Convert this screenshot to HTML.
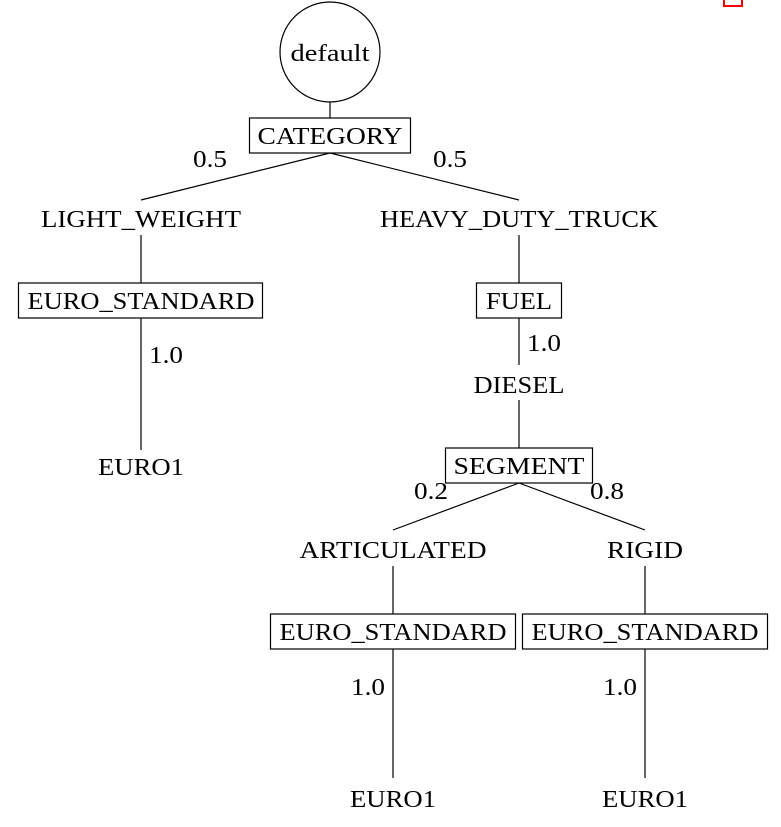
<!DOCTYPE html>
<html><head><meta charset="utf-8"><style>
html,body{margin:0;padding:0;background:#fff;}
svg text{font-family:"Liberation Serif",serif;font-size:24px;fill:#000;}
</style></head><body>
<svg width="781" height="822" viewBox="0 0 781 822" xmlns="http://www.w3.org/2000/svg">
<rect x="724" y="-3" width="18" height="9" fill="none" stroke="#f00" stroke-width="2"/>
<g stroke="#000" stroke-width="1.2" fill="none">
<circle cx="330" cy="52" r="50"/>
<line x1="330" y1="102" x2="330" y2="118"/>
<rect x="249.5" y="118" width="161" height="35"/>
<line x1="330" y1="153" x2="141" y2="200"/>
<line x1="330" y1="153" x2="519" y2="200"/>
<line x1="141" y1="235" x2="141" y2="283"/>
<rect x="18.5" y="283" width="244" height="35"/>
<line x1="141" y1="318" x2="141" y2="450"/>
<line x1="519" y1="235" x2="519" y2="283"/>
<rect x="476.5" y="283" width="85" height="35"/>
<line x1="519" y1="318" x2="519" y2="365"/>
<line x1="519" y1="400" x2="519" y2="448"/>
<rect x="445.5" y="448" width="147" height="35"/>
<line x1="519" y1="483" x2="393" y2="530"/>
<line x1="519" y1="483" x2="645" y2="530"/>
<line x1="393" y1="566" x2="393" y2="614"/>
<line x1="645" y1="566" x2="645" y2="614"/>
<rect x="270.5" y="614" width="245" height="35"/>
<rect x="522.5" y="614" width="245" height="35"/>
<line x1="393" y1="649" x2="393" y2="778"/>
<line x1="645" y1="649" x2="645" y2="778"/>
</g>
<g text-anchor="middle" lengthAdjust="spacingAndGlyphs">
<text x="330" y="61" textLength="79" lengthAdjust="spacingAndGlyphs">default</text>
<text x="330" y="144" textLength="145" lengthAdjust="spacingAndGlyphs">CATEGORY</text>
<text x="210" y="167" textLength="34" lengthAdjust="spacingAndGlyphs">0.5</text>
<text x="450" y="167" textLength="34" lengthAdjust="spacingAndGlyphs">0.5</text>
<text x="141" y="227" textLength="200" lengthAdjust="spacingAndGlyphs">LIGHT_WEIGHT</text>
<text x="519" y="227" textLength="278" lengthAdjust="spacingAndGlyphs">HEAVY_DUTY_TRUCK</text>
<text x="141" y="309" textLength="227" lengthAdjust="spacingAndGlyphs">EURO_STANDARD</text>
<text x="519" y="309" textLength="66" lengthAdjust="spacingAndGlyphs">FUEL</text>
<text x="166" y="363" textLength="34" lengthAdjust="spacingAndGlyphs">1.0</text>
<text x="544" y="351" textLength="34" lengthAdjust="spacingAndGlyphs">1.0</text>
<text x="519" y="393" textLength="91" lengthAdjust="spacingAndGlyphs">DIESEL</text>
<text x="141" y="475" textLength="86" lengthAdjust="spacingAndGlyphs">EURO1</text>
<text x="519" y="474" textLength="131" lengthAdjust="spacingAndGlyphs">SEGMENT</text>
<text x="431" y="499" textLength="34" lengthAdjust="spacingAndGlyphs">0.2</text>
<text x="607" y="499" textLength="34" lengthAdjust="spacingAndGlyphs">0.8</text>
<text x="393" y="558" textLength="187" lengthAdjust="spacingAndGlyphs">ARTICULATED</text>
<text x="645" y="558" textLength="76" lengthAdjust="spacingAndGlyphs">RIGID</text>
<text x="393" y="640" textLength="227" lengthAdjust="spacingAndGlyphs">EURO_STANDARD</text>
<text x="645" y="640" textLength="227" lengthAdjust="spacingAndGlyphs">EURO_STANDARD</text>
<text x="368" y="695" textLength="34" lengthAdjust="spacingAndGlyphs">1.0</text>
<text x="620" y="695" textLength="34" lengthAdjust="spacingAndGlyphs">1.0</text>
<text x="393" y="807" textLength="86" lengthAdjust="spacingAndGlyphs">EURO1</text>
<text x="645" y="807" textLength="86" lengthAdjust="spacingAndGlyphs">EURO1</text>
</g>
</svg>
</body></html>
